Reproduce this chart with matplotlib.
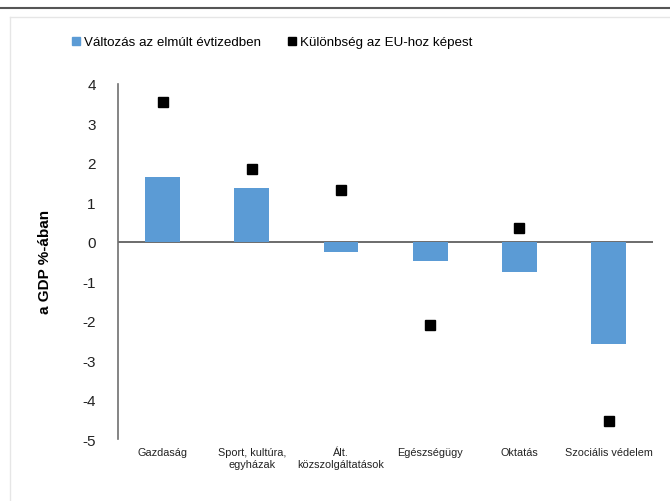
import numpy as np
import matplotlib.pyplot as plt
from matplotlib.lines import Line2D

# data
categories = ["Gazdaság", "Sport, kultúra,\negyházak", "Ált.\nközszolgáltatások",
              "Egészségügy", "Oktatás", "Szociális védelem"]
change_decade = [1.65, 1.37, -0.27, -0.49, -0.77, -2.6]
diff_eu = [3.55, 1.84, 1.32, -2.11, 0.34, -4.55]
yticks = [4, 3, 2, 1, 0, -1, -2, -3, -4, -5]

plt.rcParams['font.family'] = ['Liberation Sans', 'DejaVu Sans']

fig = plt.figure(figsize=(6.7, 5.02), dpi=100)
ax = fig.add_axes([0.176, 0.1235, 0.799, 0.7075])

x = np.arange(len(categories))
ax.bar(x, change_decade, width=0.39, color="#5b9bd5", zorder=2)
ax.plot(x, diff_eu, linestyle="none", marker="s", markersize=7, color="black", zorder=3)
ax.axhline(0, color="#606060", linewidth=1.3, zorder=1)

ax.set_xlim(-0.5, 5.5)
ax.set_ylim(-5, 4)
ax.set_yticks(yticks)
ax.set_yticklabels([str(t) for t in yticks], fontsize=11)
ax.set_xticks(x)
ax.set_xticklabels(categories, fontsize=7.8, linespacing=1.25)
ax.tick_params(axis="both", length=0, colors="#222222")
ax.tick_params(axis="y", pad=16)
ax.tick_params(axis="x", pad=6)
for s in ["top", "right", "bottom"]:
    ax.spines[s].set_visible(False)
ax.spines["left"].set_color("#707070")
ax.spines["left"].set_linewidth(1.2)
ax.set_ylabel("a GDP %-ában", fontsize=11, fontweight="bold", labelpad=22)

handles = [Line2D([], [], linestyle="none", marker="s", markersize=5.5, color="#5b9bd5"),
           Line2D([], [], linestyle="none", marker="s", markersize=5.5, color="black")]
fig.legend(handles, ["Változás az elmúlt évtizedben", "Különbség az EU-hoz képest"],
           loc="center", bbox_to_anchor=(0.405, 0.914), ncol=2, frameon=False,
           fontsize=9.6, handletextpad=0.2, columnspacing=1.9, handlelength=0.8)

# page frame lines
fig.add_artist(Line2D([0, 1], [0.982, 0.982], transform=fig.transFigure, color="#555555", linewidth=1.5))
fig.add_artist(Line2D([0.015, 1], [0.964, 0.964], transform=fig.transFigure, color="#e6e6e6", linewidth=1))
fig.add_artist(Line2D([0.015, 0.015], [0, 0.964], transform=fig.transFigure, color="#e6e6e6", linewidth=1))

fig.savefig("out.png", dpi=100)
